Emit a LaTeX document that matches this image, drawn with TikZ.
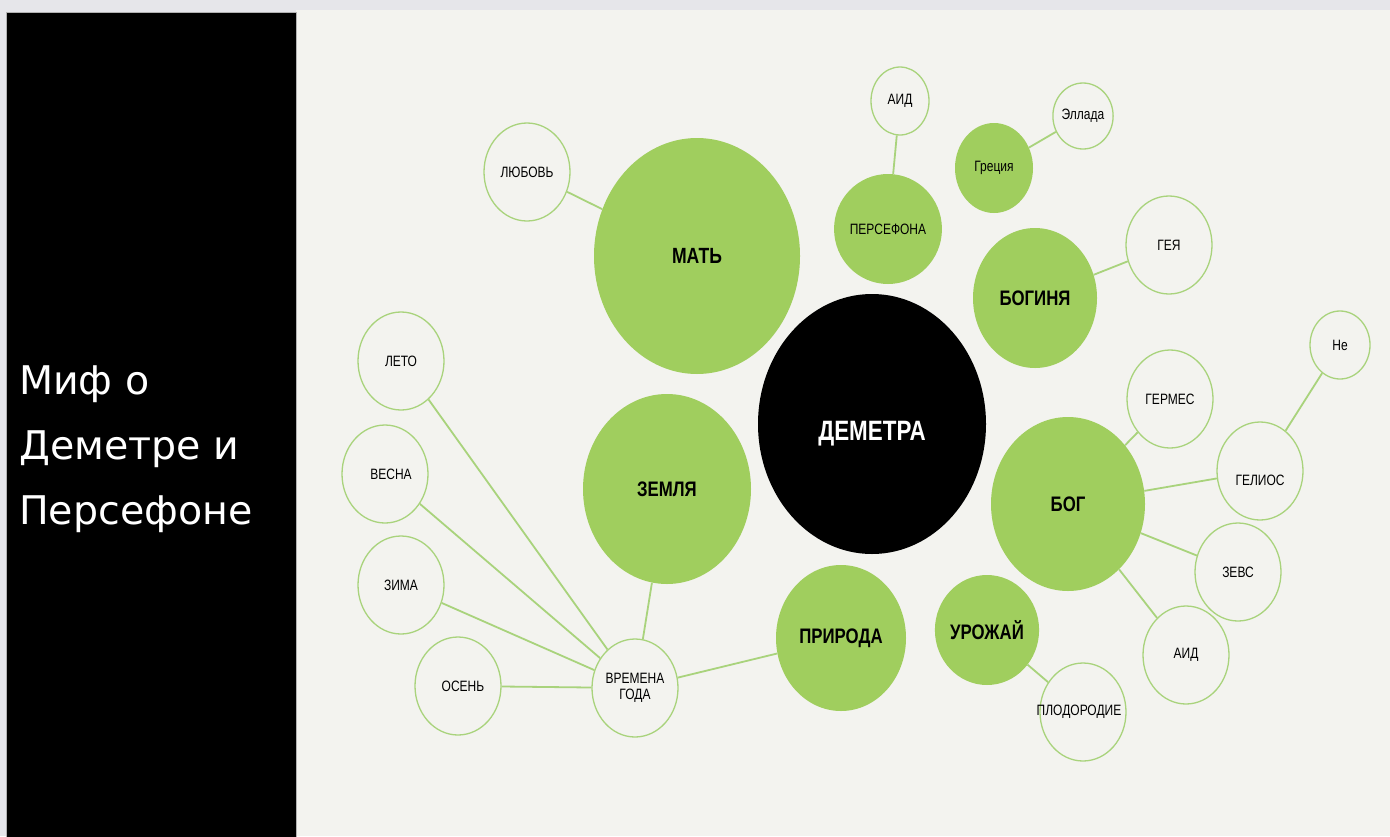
\documentclass[tikz,border=0pt]{standalone}
\usepackage{fontspec}
\setmainfont{Liberation Sans}
\newfontfamily\narrowfont[FakeStretch=0.8]{Liberation Sans}
\newfontfamily\titlefont{DejaVu Sans}
\usepackage{tikz}
\usetikzlibrary{positioning,shapes,calc}
\definecolor{leaf}{HTML}{A0CE5E}
\definecolor{rim}{HTML}{A9D37C}
\definecolor{paper}{HTML}{F3F3EF}
\definecolor{frame}{HTML}{E6E6EA}

\begin{document}
\begin{tikzpicture}[x=1pt, y=-1pt,
  sz/.style 2 args={minimum width=#1, minimum height=#2},
  big/.style={ellipse, fill=leaf, inner sep=0pt, text=black,
    font=\narrowfont\bfseries\fontsize{21}{24}\selectfont},
  plain/.style={font=\narrowfont\fontsize{15}{16}\selectfont},
  small/.style={ellipse, draw=rim, line width=1.3pt, inner sep=0pt, sz={86pt}{98pt},
    font=\narrowfont\fontsize{15}{16}\selectfont},
  link/.style={draw=rim, line width=1.8pt}]
  \useasboundingbox (0,0) rectangle (1390,836);
  % background and side panel
  \fill[frame] (0,0) rectangle (1390,836);
  \fill[paper] (296,10) rectangle (1390,836);
  \filldraw[fill=black, draw=gray!60, line width=0.8pt] (6,12) rectangle (296,840);
  \node[font=\titlefont\fontsize{39.5}{65}\selectfont, text=white, align=left,
    anchor=west, inner sep=0pt] (title) at (19,449) {Миф о\\Деметре и\\Персефоне};

  % main circles
  \node[big, fill=black, text=white, sz={228pt}{260pt}, text height=32pt, text depth=0pt,
    font=\narrowfont\bfseries\fontsize{28}{30}\selectfont] (dem) at (872,424) {ДЕМЕТРА};
  \node[big, sz={206pt}{236pt}, font=\narrowfont\bfseries\fontsize{22}{24}\selectfont] (mat) at (697,256) {МАТЬ};
  \node[big, sz={168pt}{190pt}] (zem) at (667,489) {ЗЕМЛЯ};
  \node[big, sz={130pt}{146pt}] (pri) at (841,638) {ПРИРОДА};
  \node[big, sz={98pt}{110pt}, plain] (per) at (888,229) {ПЕРСЕФОНА};
  \node[big, sz={78pt}{90pt}, plain] (gre) at (994,168) {Греция};
  \node[big, sz={124pt}{140pt}] (bgn) at (1035,298) {БОГИНЯ};
  \node[big, sz={154pt}{174pt}] (bog) at (1068,504) {БОГ};
  \node[big, sz={96pt}{110pt}] (uro) at (987,630) {УРОЖАЙ};

  % outer circles
  \node[small] (lub) at (527,172) {ЛЮБОВЬ};
  \node[small, sz={58pt}{68pt}] (aid1) at (900,101) {АИД};
  \node[small, sz={58pt}{66pt}] (ell) at (1083,116) {Эллада};
  \node[small] (gea) at (1169,245) {ГЕЯ};
  \node[small, sz={60pt}{68pt}] (ne) at (1340,345) {Не};
  \node[small] (ger) at (1170,399) {ГЕРМЕС};
  \node[small, text height=28pt, text depth=0pt] (gel) at (1260,471) {ГЕЛИОС};
  \node[small] (zev) at (1238,572) {ЗЕВС};
  \node[small] (aid2) at (1186,655) {АИД};
  \node[small, label={[plain, xshift=-4pt]center:ПЛОДОРОДИЕ}] (plo) at (1083,712) {};
  \node[small] (let) at (401,361) {ЛЕТО};
  \node[small] (ves) at (385,474) {\hspace*{12pt}ВЕСНА};
  \node[small] (zim) at (401,585) {ЗИМА};
  \node[small] (ose) at (458,686) {\hspace*{10pt}ОСЕНЬ};
  \node[small, align=center] (vre) at (635,688) {ВРЕМЕНА\\ГОДА};

  % links
  \draw[link] (lub) -- (mat);
  \draw[link] (aid1) -- (per);
  \draw[link] (gre) -- (ell);
  \draw[link] (bgn) -- (gea);
  \draw[link] (gel) -- (ne);
  \draw[link] (uro) -- (plo);
  \foreach \t in {ger,gel,zev,aid2}
    \draw[link] (bog) -- (\t);
  \foreach \t in {let,ves,zim,ose,zem,pri}
    \draw[link] (vre) -- (\t);
\end{tikzpicture}
\end{document}
